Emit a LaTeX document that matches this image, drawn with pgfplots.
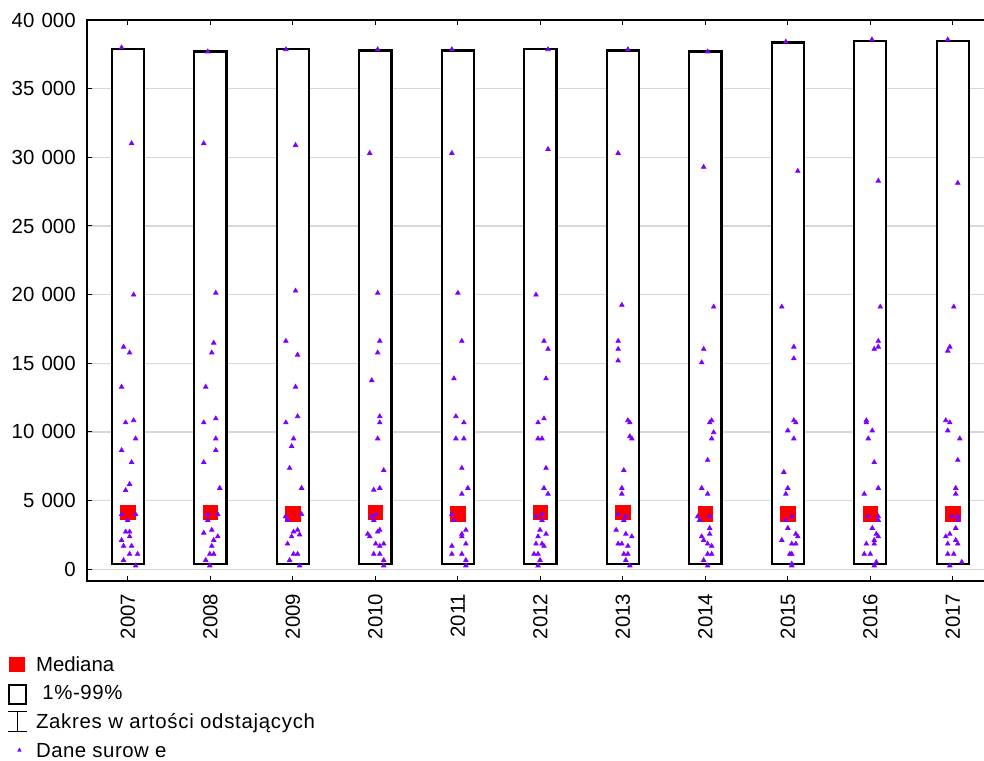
\documentclass[border=0pt]{standalone}
\usepackage{fontspec}
\setmainfont{Liberation Sans}
\usepackage{pgfplots}
\pgfplotsset{compat=1.18}
\definecolor{rawcol}{RGB}{128,0,255}
\definecolor{gridc}{RGB}{215,215,215}
\definecolor{medc}{RGB}{255,0,0}
\begin{document}
\begin{tikzpicture}
\useasboundingbox (-43.35pt,-89.65pt) rectangle (448.65pt,290.35pt);
\begin{axis}[
  at={(0pt,0pt)}, anchor=south west,
  scale only axis, width=453.65pt, height=280.35pt,
  xmin=-0.5, xmax=10.5, ymin=-830, ymax=40000,
  xtick={0,1,2,3,4,5,6,7,8,9,10},
  xticklabels={2007,2008,2009,2010,2011,2012,2013,2014,2015,2016,2017},
  ytick={0,5000,10000,15000,20000,25000,30000,35000,40000},
  ymajorgrids, grid style={gridc, line width=0.7pt},
  tick align=inside, major tick length=2.5pt,
  tick style={black, line width=0.5pt},
  axis line style={line width=0.85pt},
  /pgf/number format/.cd, 1000 sep={\hspace{3.6pt}}, assume math mode=true,
  /pgfplots/.cd,
  scaled y ticks=false,
  tick label style={font=\fontsize{10.2}{12}\selectfont},
  yticklabel style={xshift=-2pt},
  xticklabel style={rotate=90, anchor=east, xshift=-3pt},
  legend cell align=left,
  legend style={at={(-0.0867,-0.1361)}, anchor=north west, draw=none, fill=none,
    inner sep=0pt, outer sep=0pt, row sep=5.4pt, column sep=4pt,
    font=\fontsize{10.2}{12}\selectfont,
    nodes={inner sep=0pt, text height=7pt, text depth=2pt, anchor=base west}},
]
% boxes (1%-99%)
\pgfplotsset{boxstyle/.style={forget plot, draw=black, line width=1.1pt, line join=miter, fill=white}}
\addplot[boxstyle] coordinates {(-0.195,370) (0.195,370) (0.195,37910) (-0.195,37910)} -- cycle;
\addplot[boxstyle] coordinates {(0.805,370) (1.195,370) (1.195,37700) (0.805,37700)} -- cycle;
\addplot[boxstyle] coordinates {(1.805,370) (2.195,370) (2.195,37880) (1.805,37880)} -- cycle;
\addplot[boxstyle] coordinates {(2.805,370) (3.195,370) (3.195,37780) (2.805,37780)} -- cycle;
\addplot[boxstyle] coordinates {(3.805,370) (4.195,370) (4.195,37780) (3.805,37780)} -- cycle;
\addplot[boxstyle] coordinates {(4.805,370) (5.195,370) (5.195,37860) (4.805,37860)} -- cycle;
\addplot[boxstyle] coordinates {(5.805,370) (6.195,370) (6.195,37780) (5.805,37780)} -- cycle;
\addplot[boxstyle] coordinates {(6.805,370) (7.195,370) (7.195,37700) (6.805,37700)} -- cycle;
\addplot[boxstyle] coordinates {(7.805,370) (8.195,370) (8.195,38360) (7.805,38360)} -- cycle;
\addplot[boxstyle] coordinates {(8.805,370) (9.195,370) (9.195,38490) (8.805,38490)} -- cycle;
\addplot[boxstyle] coordinates {(9.805,370) (10.195,370) (10.195,38490) (9.805,38490)} -- cycle;
% medians
\addplot[forget plot, only marks, mark=square*, mark size=3.6pt, color=medc] coordinates {
(0,4162) (1,4162) (2,4030) (3,4162) (4,4030) (5,4162) (6,4162) (7,4030) (8,4030) (9,4030) (10,4030)};
% raw data
\pgfplotsset{rawstyle/.style={forget plot, only marks, mark=triangle*, mark size=1.25pt, color=rawcol}}
\addplot[rawstyle] coordinates {(-0.077,37990)(0.044,31017)(0.069,19989)(-0.053,16198)(0.020,15774)(-0.077,13282)(-0.028,10684)(0.069,10843)(0.093,9517)(-0.077,8669)(0.044,7794)(0.020,6203)(-0.028,5753)(-0.077,4003)(0.093,4003)(-0.004,3579)(-0.028,2731)(0.020,2731)(0.020,2386)(-0.077,2121)(-0.053,1697)(0.044,1697)(0.020,1113)(0.117,1113)(-0.053,663)(0.093,265)};
\addplot[rawstyle] coordinates {(0.968,37697)(0.919,31017)(1.065,20121)(1.040,16490)(1.016,15774)(0.943,13282)(0.919,10684)(1.065,10975)(1.065,9517)(1.065,8669)(0.919,7794)(1.113,5912)(0.968,4003)(1.089,4003)(0.968,3579)(1.016,2863)(0.919,2651)(1.089,2386)(1.040,2121)(1.016,1697)(0.992,1113)(1.040,1113)(0.943,663)(0.992,265)};
\addplot[rawstyle] coordinates {(1.915,37856)(2.032,30884)(2.032,20280)(1.915,16622)(2.057,15615)(2.032,13282)(2.057,11134)(1.915,10684)(2.008,9517)(1.984,8961)(1.960,7370)(2.105,5912)(2.105,4003)(1.911,3844)(1.935,3579)(2.057,2863)(2.008,2731)(2.081,2519)(1.984,2386)(1.935,1856)(2.008,1113)(2.057,1113)(1.960,663)(2.081,265)};
\addplot[rawstyle] coordinates {(3.028,37856)(2.931,30301)(3.028,20121)(3.053,16622)(3.028,15774)(2.956,13759)(3.053,11134)(3.053,10684)(3.028,9517)(3.101,7211)(3.053,5912)(2.980,5779)(3.004,4003)(2.956,3844)(2.980,3579)(3.053,2863)(3.028,2731)(2.907,2571)(2.931,2386)(3.004,1856)(3.101,1856)(3.053,1697)(2.980,1113)(3.053,1113)(3.101,663)(3.101,265)};
\addplot[rawstyle] coordinates {(3.927,37856)(3.927,30301)(4.000,20121)(4.048,16622)(3.952,13891)(3.976,11134)(4.073,10684)(3.976,9517)(4.073,9517)(4.048,7370)(4.121,5912)(4.048,5488)(3.927,4003)(3.952,3579)(4.097,2863)(4.048,2571)(4.048,2386)(4.097,1856)(3.927,1697)(3.927,1113)(4.048,1113)(4.097,663)(4.097,265)};
\addplot[rawstyle] coordinates {(5.093,37856)(5.093,30593)(4.947,19989)(5.044,16622)(5.093,16039)(5.069,13891)(5.044,10975)(4.972,10684)(4.972,9517)(5.020,9517)(5.069,7370)(5.044,5912)(5.093,5488)(5.020,4003)(4.947,3844)(5.020,3579)(4.996,2863)(5.069,2571)(4.972,2386)(4.947,1856)(5.020,1856)(5.044,1697)(4.923,1113)(4.972,1113)(4.996,663)(4.972,265)};
\addplot[rawstyle] coordinates {(6.061,37856)(5.943,30301)(5.988,19246)(5.943,16622)(5.943,16039)(5.943,15190)(6.061,10843)(6.085,10684)(6.085,9676)(6.109,9517)(6.012,7211)(5.988,5912)(5.988,5488)(5.943,4003)(6.036,3844)(6.012,3579)(5.919,2863)(6.036,2571)(6.109,2386)(5.943,1856)(5.988,1856)(6.061,1697)(6.012,1113)(6.061,1113)(6.036,663)(6.085,265)};
\addplot[rawstyle] coordinates {(7.028,37697)(6.980,29293)(7.101,19113)(6.980,16039)(6.956,15058)(7.077,10843)(7.053,10684)(7.101,9968)(7.077,9517)(7.028,7953)(6.956,5912)(7.028,5488)(6.907,3844)(6.931,3579)(7.053,3844)(7.053,2996)(7.053,2571)(6.956,2386)(6.980,2121)(7.028,1856)(7.077,1697)(7.028,1113)(7.077,1113)(6.980,663)(7.028,265)};
\addplot[rawstyle] coordinates {(7.976,38413)(8.121,29002)(7.927,19113)(8.073,16198)(8.073,15349)(8.073,10843)(8.097,10684)(8.000,10100)(8.073,9517)(7.952,7078)(8.000,5912)(7.976,5488)(8.048,3844)(7.976,3579)(8.000,2996)(8.097,2571)(8.121,2386)(7.927,2121)(8.048,1856)(8.097,1856)(8.024,1113)(8.048,1113)(8.048,398)(8.048,265)};
\addplot[rawstyle] coordinates {(9.020,38572)(9.097,28286)(9.121,19113)(9.097,16622)(9.097,16198)(9.048,16039)(8.952,10843)(8.952,10684)(9.024,10100)(8.976,9517)(9.048,7794)(9.097,5912)(8.927,5488)(8.976,3844)(9.097,3844)(9.097,3579)(9.024,2996)(9.073,2571)(9.097,2386)(9.048,2121)(8.952,1856)(9.048,1856)(8.927,1113)(9.000,1113)(9.073,530)(9.048,265)};
\addplot[rawstyle] coordinates {(9.939,38572)(10.061,28127)(10.012,19113)(9.964,16198)(9.939,15906)(9.915,10843)(9.964,10684)(9.939,10100)(10.085,9517)(10.061,7953)(10.036,5912)(10.036,5488)(9.988,3844)(10.061,3844)(10.061,3579)(10.036,2996)(9.964,2571)(9.915,2386)(10.036,2121)(9.939,1856)(10.061,1856)(9.939,1113)(10.012,1113)(10.109,530)(9.964,265)};
% legend
\addlegendimage{legend image code/.code={
  \fill[medc, draw=none, overlay] (0.5pt,-0.5pt) rectangle (8.3pt,6.8pt);
  \path[draw=none, fill=none] (0pt,-2pt) rectangle (10pt,7pt);}}
\addlegendentry{Mediana}
\addlegendimage{legend image code/.code={
  \draw[black, fill=none, line width=1pt, overlay] (0.5pt,-2pt) rectangle (9pt,7.6pt);
  \path[draw=none, fill=none] (0pt,-2pt) rectangle (10pt,7pt);}}
\addlegendentry{\addfontfeature{LetterSpace=3}\ 1\%-99\%}
\addlegendimage{legend image code/.code={
  \draw[black, fill=none, line width=0.5pt, overlay] (0pt,-1.5pt) -- (9.5pt,-1.5pt) (4.75pt,-1.5pt) -- (4.75pt,8.5pt) (0pt,8.5pt) -- (9.5pt,8.5pt);
  \path[draw=none, fill=none] (0pt,-2pt) rectangle (10pt,7pt);}}
\addlegendentry{\addfontfeature{LetterSpace=3.5}Zakres w artości odstających}
\addlegendimage{legend image code/.code={
  \fill[rawcol, draw=none, overlay] (4.6pt,2.9pt) -- (6.8pt,2.9pt) -- (5.7pt,5pt) -- cycle;
  \path[draw=none, fill=none] (0pt,-2pt) rectangle (10pt,7pt);}}
\addlegendentry{\addfontfeature{LetterSpace=2.5}Dane surow e}
\end{axis}
\end{tikzpicture}
\end{document}
